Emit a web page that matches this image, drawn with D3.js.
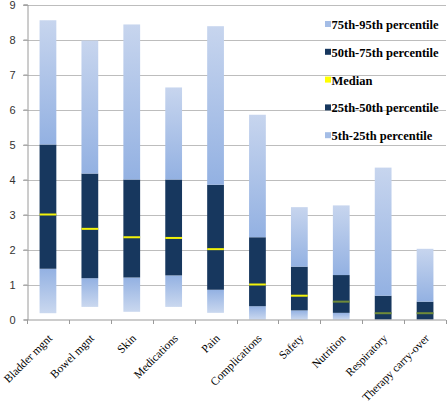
<!DOCTYPE html>
<html><head><meta charset="utf-8">
<script src="https://cdn.jsdelivr.net/npm/d3@7"></script>
<style>html,body{margin:0;padding:0;background:#fff;}</style>
</head><body><svg id="c" width="448" height="406"></svg>
<script>
const categories = ["Bladder mgnt","Bowel mgnt","Skin","Medications","Pain","Complications","Safety","Nutrition","Respiratory","Therapy carry-over"];
const p5  = [0.18,0.36,0.22,0.36,0.19,0.00,0.00,0.00,0.00,0.00];
const p25 = [1.45,1.18,1.20,1.26,0.85,0.38,0.26,0.19,0.00,0.00];
const p50 = [3.00,2.59,2.35,2.33,2.01,1.00,0.68,0.51,0.18,0.18];
const p75 = [5.00,4.17,4.00,4.00,3.85,2.35,1.51,1.27,0.68,0.51];
const p95 = [8.55,7.97,8.43,6.63,8.38,5.85,3.21,3.26,4.34,2.02];
const yTicks = [0,1,2,3,4,5,6,7,8,9];
const legendLabels = ["75th-95th percentile","50th-75th percentile","Median","25th-50th percentile","5th-25th percentile"];

const svg = d3.select("#c");
const m = {l:27, r:2, t:4.5, b:86.5};
const W = 448, H = 406;
const x = d3.scaleBand().domain(categories).range([m.l, W-m.r]).paddingInner(0.6).paddingOuter(0.3);
const xb = d3.scaleBand().domain(categories).range([m.l, W-m.r]);
const y = d3.scaleLinear().domain([0,9]).range([H-m.b, m.t]);

const defs = svg.append("defs");
const gU = defs.append("linearGradient").attr("id","gU").attr("x1",0).attr("y1",0).attr("x2",0).attr("y2",1);
gU.append("stop").attr("offset","0%").attr("stop-color","#c7d5ee");
gU.append("stop").attr("offset","100%").attr("stop-color","#93b1e2");
const gL = defs.append("linearGradient").attr("id","gL").attr("x1",0).attr("y1",0).attr("x2",0).attr("y2",1);
gL.append("stop").attr("offset","0%").attr("stop-color","#93b1e2");
gL.append("stop").attr("offset","100%").attr("stop-color","#cad8ef");

// gridlines
svg.append("g").selectAll("line").data(yTicks.filter(d=>d>0)).join("line")
  .attr("x1", m.l-4).attr("x2", W-m.r).attr("y1", d=>Math.round(y(d))+0.5).attr("y2", d=>Math.round(y(d))+0.5)
  .attr("stroke","#bdbdbd").attr("stroke-width",1);

// y axis
const ya = svg.append("g").attr("transform",`translate(${m.l+0.5},0)`)
  .call(d3.axisLeft(y).tickValues(yTicks).tickSize(4).tickPadding(8).tickFormat(d3.format("d")));
ya.select(".domain").attr("stroke","#9a9a9a");
ya.selectAll(".tick line").attr("stroke","#9a9a9a");
ya.selectAll("text").attr("font-family","Liberation Sans, Arial, sans-serif").attr("font-size",11).attr("fill","#333");

// bars
const segs = [];
categories.forEach((c,i)=>{
  segs.push({c, lo:p5[i], hi:p25[i], fill:"url(#gL)"});
  segs.push({c, lo:p25[i], hi:p50[i], fill:"#17375e"});
  segs.push({c, lo:p50[i], hi:p75[i], fill:"#17375e"});
  segs.push({c, lo:p75[i], hi:p95[i], fill:"url(#gU)"});
});
svg.append("g").selectAll("rect").data(segs.filter(s=>s.hi>s.lo)).join("rect")
  .attr("x", d=>x(d.c)).attr("width", x.bandwidth())
  .attr("y", d=>y(d.hi)).attr("height", d=>y(d.lo)-y(d.hi))
  .attr("fill", d=>d.fill);
// medians
svg.append("g").selectAll("rect").data(categories).join("rect")
  .attr("x", d=>x(d)).attr("width", x.bandwidth())
  .attr("y", (d,i)=>y(p50[i])-1).attr("height", 2)
  .attr("fill", (d,i)=> p50[i] < 0.6 ? "#6f8a3a" : "#f2f20a");

// x axis
const xa = svg.append("g").attr("transform",`translate(0,${y(0)+0.5})`);
xa.append("line").attr("x1",m.l).attr("x2",W-m.r).attr("stroke","#9a9a9a");
xa.selectAll("line.t").data(d3.range(categories.length+1)).join("line").attr("class","t")
  .attr("x1", i=>Math.round(m.l + i*xb.step())+0.5).attr("x2", i=>Math.round(m.l + i*xb.step())+0.5)
  .attr("y1",0).attr("y2",4).attr("stroke","#9a9a9a");
xa.selectAll("text").data(categories).join("text")
  .attr("transform", d=>`translate(${x(d)+x.bandwidth()/2+5},${19}) rotate(-45)`)
  .attr("text-anchor","end")
  .attr("font-family","Liberation Serif, Times New Roman, serif").attr("font-size",11.5).attr("fill","#000")
  .text(d=>d);

// legend
const lg = svg.append("g").selectAll("g").data(legendLabels).join("g")
  .attr("transform",(d,i)=>`translate(325,${25+i*27.8})`);
lg.append("rect").attr("x",0).attr("y",-4).attr("width",6).attr("height",6)
  .attr("fill",(d,i)=> i===2 ? "#ffff00" : (i===1||i===3) ? "#17375e" : "#a4bde6");
lg.append("text").attr("x",6.5).attr("y",4).attr("font-family","Liberation Serif, Times New Roman, serif")
  .attr("font-weight","bold").attr("font-size",12.5).attr("fill","#000").text(d=>d);
</script></body></html>
